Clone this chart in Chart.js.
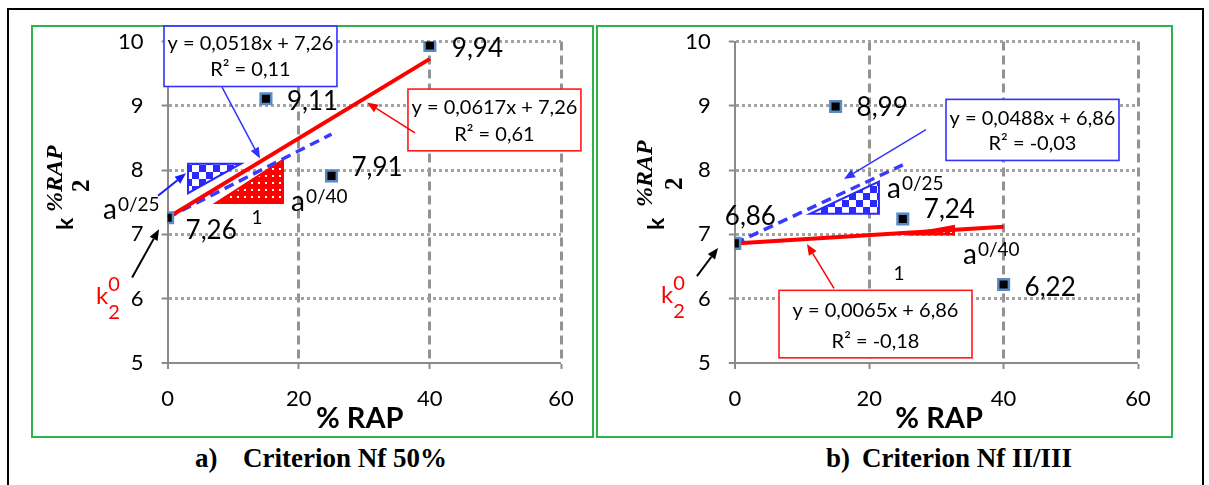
<!DOCTYPE html>
<html><head><meta charset="utf-8">
<script src="https://cdn.jsdelivr.net/npm/chart.js@4"></script>
<style>
body{margin:0;background:#fff;}
#wrap{position:relative;width:1209px;height:485px;overflow:hidden;background:#fff;}
.frame{position:absolute;border:2px solid #000;left:7px;top:8px;width:1197px;height:500px;box-sizing:border-box;}
.green{position:absolute;border:2px solid #2db34a;box-sizing:border-box;}
canvas{position:absolute;}
.cap{position:absolute;font-family:"Liberation Serif","Times New Roman",serif;font-weight:bold;font-size:27px;line-height:30px;white-space:pre;color:#000;}
</style></head>
<body>
<div id="wrap">
  <div class="frame"></div>
  <div class="green" style="left:31px;top:25px;width:563px;height:413px;"></div>
  <div class="green" style="left:596px;top:25px;width:577px;height:413px;"></div>
  <canvas id="cA" width="562" height="412" style="left:31px;top:25px;width:562px;height:412px;"></canvas>
  <canvas id="cB" width="575" height="412" style="left:597px;top:25px;width:575px;height:412px;"></canvas>
  <div class="cap" style="left:195px;top:443px;">a)</div>
  <div class="cap" style="left:243px;top:443px;">Criterion Nf 50%</div>
  <div class="cap" style="left:826px;top:443px;">b)</div>
  <div class="cap" style="left:862px;top:443px;">Criterion Nf II/III</div>
</div>
<script>
// ---------- data ----------
const rapPercent = [0, 15, 25, 40];
const k2NfA = [7.26, 9.11, 7.91, 9.94];   // a) Criterion Nf 50%
const k2NfB = [6.86, 8.99, 7.24, 6.22];   // b) Criterion Nf II/III
const xTickValues = [0, 20, 40, 60];
const yTickValues = [5, 6, 7, 8, 9, 10];
// trend line end points
const trendRedX = [0, 40];
const trendBlueX = [0, 25];
const trendRedA = [7.26, 9.73];
const trendBlueA = [7.26, 8.56];
const trendRedB = [6.86, 7.12];
const trendBlueB = [6.86, 8.08];
// equation texts
const eqBlueA = ['y = 0,0518x + 7,26', 'R\u00B2 = 0,11'];
const eqRedA = ['y = 0,0617x + 7,26', 'R\u00B2 = 0,61'];
const eqBlueB = ['y = 0,0488x + 6,86', 'R\u00B2 = -0,03'];
const eqRedB = ['y = 0,0065x + 6,86', 'R\u00B2 = -0,18'];
const xTitle = '% RAP';

// ---------- styles / layout ----------
const SANS = '"Lato", "Open Sans", sans-serif';
const SERIF = '"Liberation Serif", "Times New Roman", serif';
const labelOffA = [[18, 21], [21, 11], [20, 0], [22, 12]];
const labelOffB = [[-10, -18], [21, 10], [21, -1], [21, 11]];

function mkPattern(kind) {
  const c = document.createElement('canvas');
  const g = c.getContext('2d');
  if (kind === 'check') {
    c.width = c.height = 14;
    g.fillStyle = '#fff'; g.fillRect(0, 0, 14, 14);
    g.fillStyle = '#2a2aff'; g.fillRect(0, 0, 7, 7); g.fillRect(7, 7, 7, 7);
  } else {
    c.width = c.height = 7;
    g.fillStyle = '#ff0000'; g.fillRect(0, 0, 7, 7);
    g.fillStyle = '#fff'; g.fillRect(3, 3, 2, 2);
  }
  return c;
}

function arrow(ctx, x1, y1, x2, y2, color, lw, hl, hw) {
  const a = Math.atan2(y2 - y1, x2 - x1);
  const bx = x2 - hl * Math.cos(a), by = y2 - hl * Math.sin(a);
  ctx.save();
  ctx.strokeStyle = color; ctx.fillStyle = color; ctx.lineWidth = lw;
  ctx.beginPath(); ctx.moveTo(x1, y1); ctx.lineTo(bx, by); ctx.stroke();
  ctx.beginPath(); ctx.moveTo(x2, y2);
  ctx.lineTo(bx + hw * Math.sin(a), by - hw * Math.cos(a));
  ctx.lineTo(bx - hw * Math.sin(a), by + hw * Math.cos(a));
  ctx.closePath(); ctx.fill();
  ctx.restore();
}

const annA = {
  labelOff: labelOffA,
  triangles: [
    {pts: [[3.11, 8.10], [11.19, 8.10], [3.11, 7.64]], fill: 'check', stroke: '#2a2aff'},
    {pts: [[7.38, 7.49], [17.60, 7.49], [17.60, 8.16]], fill: 'dots', stroke: '#ff0000'}
  ],
  boxes: [
    {x1: -0.55, y1: 10.24, x2: 25.83, y2: 9.30, color: '#3333ff', lines: eqBlueA, ly: [9.87, 9.46]},
    {x1: 36.66, y1: 9.26, x2: 63.04, y2: 8.30, color: '#ff1a1a', lines: eqRedA, ly: [8.87, 8.45]}
  ],
  arrows: [
    {from: [37.73, 8.58], to: [30.41, 9.05], color: '#ff0000', lw: 1.5},
    {from: [8.30, 9.29], to: [14.09, 8.18], color: '#3333ff', lw: 1.5},
    {from: [-1.46, 7.60], to: [2.81, 7.95], color: '#1a1aff', lw: 2},
    {from: [-5.41, 6.33], to: [-1.31, 7.08], color: '#000', lw: 2}
  ],
  powers: [{x: -9.85, y: 7.24, sup: '0/25'}, {x: 18.82, y: 7.36, sup: '0/40'}],
  one: {x: 13.63, y: 7.16},
  k0: {x: -10.92, y: 5.91},
  yTitle: {k: [-94.6, 188.5], rap: [-105.6, 170.5], two: [-78.6, 150.5]},
  xTitleX: 29.3
};
const annB = {
  labelOff: labelOffB,
  triangles: [
    {pts: [[11.19, 7.32], [21.45, 7.32], [21.45, 7.82]], fill: 'check', stroke: '#2a2aff'},
    {pts: [[25.62, 7.00], [32.62, 7.00], [32.62, 7.13]], fill: 'dots', stroke: '#ff0000'}
  ],
  boxes: [
    {x1: 31.43, y1: 9.10, x2: 57.17, y2: 8.15, color: '#3333ff', lines: eqBlueB, ly: [8.70, 8.31]},
    {x1: 6.58, y1: 6.13, x2: 35.30, y2: 5.08, color: '#ff1a1a', lines: eqRedB, ly: [5.71, 5.24]}
  ],
  arrows: [
    {from: [28.45, 8.63], to: [16.25, 7.86], color: '#3333ff', lw: 1.5},
    {from: [14.76, 6.16], to: [10.74, 6.85], color: '#ff0000', lw: 1.5},
    {from: [-5.63, 6.35], to: [-2.5, 6.79], color: '#000', lw: 2}
  ],
  powers: [{x: 22.65, y: 7.57, sup: '0/25'}, {x: 33.96, y: 6.54, sup: '0/40'}],
  one: {x: 24.43, y: 6.29},
  k0: {x: -10.98, y: 5.94},
  yTitle: {k: [-70.8, 188.5], rap: [-82.8, 165.5], two: [-52.8, 148.5]},
  xTitleX: 30.4
};

function annotPlugin(cfg) {
  return {
    id: 'annot',
    beforeDatasetsDraw(chart) {
      const {ctx, scales: {x, y}} = chart;
      cfg.triangles.forEach(t => {
        ctx.save();
        ctx.beginPath();
        t.pts.forEach((p, i) => {
          const px = x.getPixelForValue(p[0]), py = y.getPixelForValue(p[1]);
          if (i) ctx.lineTo(px, py); else ctx.moveTo(px, py);
        });
        ctx.closePath();
        ctx.fillStyle = ctx.createPattern(mkPattern(t.fill), 'repeat');
        ctx.fill();
        ctx.strokeStyle = t.stroke; ctx.lineWidth = 2; ctx.stroke();
        ctx.restore();
      });
    },
    afterDatasetsDraw(chart) {
      const {ctx, scales: {x, y}, chartArea} = chart;
      // point labels
      const meta = chart.getDatasetMeta(0);
      const vals = chart.data.datasets[0].data;
      ctx.save();
      ctx.fillStyle = '#000';
      ctx.font = '26px ' + SANS;
      ctx.textAlign = 'left'; ctx.textBaseline = 'alphabetic';
      meta.data.forEach((el, i) => {
        const o = cfg.labelOff[i];
        ctx.fillText(vals[i].y.toFixed(2).replace('.', ','), el.x + o[0], el.y + o[1]);
      });
      ctx.restore();
      // boxes
      cfg.boxes.forEach(b => {
        const X1 = x.getPixelForValue(b.x1), X2 = x.getPixelForValue(b.x2);
        const Y1 = y.getPixelForValue(b.y1), Y2 = y.getPixelForValue(b.y2);
        ctx.save();
        ctx.fillStyle = '#fff';
        ctx.fillRect(X1, Y1, X2 - X1, Y2 - Y1);
        ctx.strokeStyle = b.color; ctx.lineWidth = 1.6;
        ctx.strokeRect(X1, Y1, X2 - X1, Y2 - Y1);
        ctx.fillStyle = '#000';
        ctx.font = '20px ' + SANS;
        ctx.textAlign = 'center'; ctx.textBaseline = 'alphabetic';
        b.lines.forEach((s, i) => ctx.fillText(s, (X1 + X2) / 2, y.getPixelForValue(b.ly[i])));
        ctx.restore();
      });
      // arrows
      cfg.arrows.forEach(a => {
        arrow(ctx, x.getPixelForValue(a.from[0]), y.getPixelForValue(a.from[1]),
          x.getPixelForValue(a.to[0]), y.getPixelForValue(a.to[1]), a.color, a.lw, 11, 4.5);
      });
      // a^{0/25} etc
      ctx.save();
      ctx.fillStyle = '#000'; ctx.textAlign = 'left'; ctx.textBaseline = 'alphabetic';
      cfg.powers.forEach(p => {
        const px = x.getPixelForValue(p.x), py = y.getPixelForValue(p.y);
        ctx.font = '28px ' + SANS;
        ctx.fillText('a', px, py);
        const w = ctx.measureText('a').width;
        ctx.font = '19px ' + SANS;
        ctx.fillText(p.sup, px + w + 1, py - 8);
      });
      ctx.font = '19px ' + SANS;
      ctx.textAlign = 'center';
      ctx.fillText('1', x.getPixelForValue(cfg.one.x), y.getPixelForValue(cfg.one.y));
      // k_2^0
      ctx.fillStyle = '#ff0000';
      ctx.textAlign = 'left';
      const kx = x.getPixelForValue(cfg.k0.x), ky = y.getPixelForValue(cfg.k0.y);
      ctx.font = '24px ' + SANS;
      ctx.fillText('k', kx, ky);
      const kw = ctx.measureText('k').width;
      ctx.font = '20px ' + SANS;
      ctx.fillText('0', kx + kw, ky - 13);
      ctx.fillText('2', kx + kw, ky + 15);
      ctx.restore();
      // axis titles
      ctx.save();
      ctx.fillStyle = '#000';
      ctx.font = 'bold 29px ' + SANS;
      ctx.textAlign = 'center'; ctx.textBaseline = 'alphabetic';
      ctx.fillText(xTitle, x.getPixelForValue(cfg.xTitleX), chartArea.bottom + 65);
      const t = cfg.yTitle;
      const rot = (pos, str, font) => {
        ctx.save();
        ctx.translate(chartArea.left + pos[0], chartArea.top + pos[1]);
        ctx.rotate(-Math.PI / 2);
        ctx.font = font; ctx.textAlign = 'left';
        ctx.fillText(str, 0, 0);
        ctx.restore();
      };
      rot(t.k, 'k', 'bold 23px ' + SANS);
      rot(t.rap, '%RAP', 'bold italic 24px ' + SERIF);
      rot(t.two, '2', 'bold 25px ' + SERIF);
      ctx.restore();
    }
  };
}

function makeChart(id, values, redY, blueY, cfg, yWidth, padRight) {
  const pts = rapPercent.map((r, i) => ({x: r, y: values[i]}));
  const red = trendRedX.map((r, i) => ({x: r, y: redY[i]}));
  const blue = trendBlueX.map((r, i) => ({x: r, y: blueY[i]}));
  return new Chart(document.getElementById(id), {
    type: 'scatter',
    data: {
      datasets: [
        {data: pts, order: 0, pointStyle: 'rect', pointRadius: 7.5, pointBorderWidth: 2.5,
          pointBackgroundColor: '#000', pointBorderColor: '#5a8ac6', showLine: false},
        {data: red, order: 1, showLine: true, borderColor: '#ff0000', borderWidth: 4,
          pointRadius: 0, borderCapStyle: 'butt'},
        {data: blue, order: 2, showLine: true, borderColor: '#3a3aff', borderWidth: 3.5,
          borderDash: [10, 6], pointRadius: 0}
      ]
    },
    options: {
      responsive: false, animation: false, devicePixelRatio: 1,
      layout: {padding: {left: 0, right: padRight, top: 16.5, bottom: 0}},
      plugins: {legend: {display: false}, tooltip: {enabled: false}, title: {display: false}},
      scales: {
        x: {
          type: 'linear', min: 0, max: 60,
          afterBuildTicks: s => { s.ticks = xTickValues.map(v => ({value: v})); },
          afterFit: s => { s.height = 74; s.paddingLeft = 0; s.paddingRight = 0; },
          grid: {color: '#939393', lineWidth: c => (c.tick && c.tick.value === 0 ? 0 : 3),
            tickColor: '#8a8a8a', tickWidth: 2, tickLength: 6, tickBorderDash: []},
          border: {display: true, color: '#8a8a8a', width: 2, dash: [9, 5]},
          ticks: {font: {family: SANS, size: 22}, color: '#000', padding: 17, maxRotation: 0}
        },
        y: {
          type: 'linear', min: 5, max: 10,
          afterBuildTicks: s => { s.ticks = yTickValues.map(v => ({value: v})); },
          afterFit: s => { s.width = yWidth; s.paddingTop = 0; s.paddingBottom = 0; },
          grid: {color: '#a3a3a3', lineWidth: c => (c.tick && c.tick.value === 5 ? 0 : 3),
            tickColor: '#8a8a8a', tickWidth: 2, tickLength: 6, tickBorderDash: []},
          border: {display: true, color: '#8a8a8a', width: 2, dash: [3, 3]},
          ticks: {font: {family: SANS, size: 22}, color: '#000', padding: 18}
        }
      }
    },
    plugins: [annotPlugin(cfg)]
  });
}

makeChart('cA', k2NfA, trendRedA, trendBlueA, annA, 136.6, 32);
makeChart('cB', k2NfB, trendRedB, trendBlueB, annB, 137.8, 34);
</script>
</body></html>
